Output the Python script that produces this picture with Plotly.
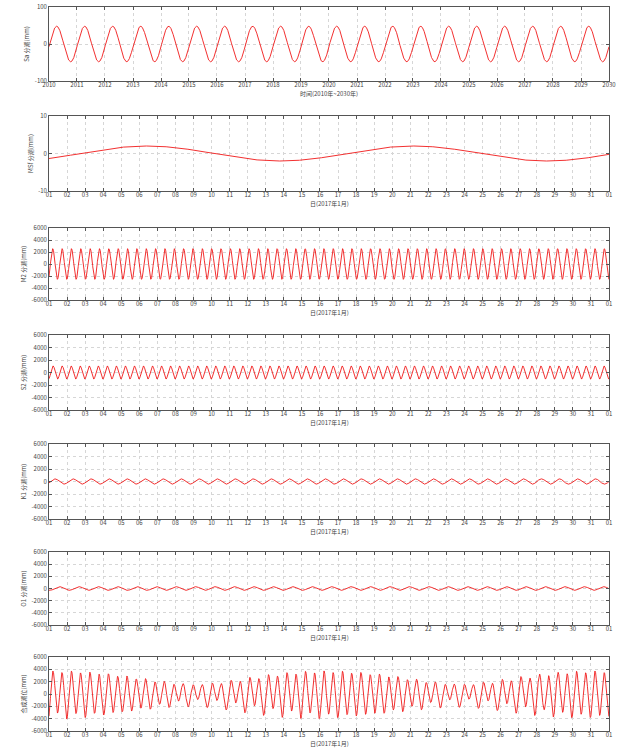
import numpy as np
import pandas as pd
import plotly.graph_objects as go

# ---- data (harmonic constituents) ----
constituents = ["Sa", "MSf", "M2", "S2", "K1", "O1"]
periods_h = [8766.15, 354.37, 12.4206, 12.0, 23.9345, 25.8193]   # hours
amplitudes = [48, 2.0, 2550, 1050, 420, 300]
first_peak_h = [2400, 130, 5.0, 5.4, 8.0, 14.0]                   # time of first crest (h)

y_titles = ["Sa 分潮(mm)", "MSf 分潮(mm)", "M2 分潮(mm)", "S2 分潮(mm)",
            "K1 分潮(mm)", "O1 分潮(mm)", "合成潮位(mm)"]
x_titles = ["时间(2010年~2030年)"] + ["日(2017年1月)"] * 6
y_ranges = [[-100, 100], [-10, 10]] + [[-6000, 6000]] * 5
y_tickvals = [[-100, 0, 100], [-10, 0, 10]] + [[-6000, -4000, -2000, 0, 2000, 4000, 6000]] * 5

long_start, long_end = "2010-01-01", "2030-01-01"
month_start, month_end = "2017-01-01", "2017-02-01"

t_long = pd.date_range(long_start, long_end, freq="D")
t_month = pd.date_range(month_start, month_end, freq="10min")
h_long = (t_long - t_long[0]).total_seconds().values / 3600.0
h_month = (t_month - t_month[0]).total_seconds().values / 3600.0


def wave(i, h):
    return amplitudes[i] * np.cos(2 * np.pi * (h - first_peak_h[i]) / periods_h[i])


series = [wave(0, h_long), wave(1, h_month)] + [wave(i, h_month) for i in range(2, 6)]
series.append(sum(wave(i, h_month) for i in range(1, 6)))
xs = [t_long] + [t_month] * 6

# ---- layout (pixel positions of the panels) ----
W, H = 622, 749
L, R = 49, 609
panels = [(7, 81), (116, 191), (228, 300), (335, 410), (444, 519), (552, 625), (657, 731)]

FONT = "Noto Sans CJK SC, Noto Sans, DejaVu Sans"
TXT = "#444"
fig = go.Figure()
annotations = []
for k in range(7):
    sfx = "" if k == 0 else str(k + 1)
    fig.add_trace(go.Scatter(x=xs[k], y=series[k], mode="lines",
                             line=dict(color="#f01818", width=0.9),
                             xaxis="x" + sfx, yaxis="y" + sfx, showlegend=False,
                             hoverinfo="skip"))
    T, B = panels[k]
    common = dict(showline=True, mirror="ticks", linecolor="#555", linewidth=0.8,
                  ticks="inside", ticklen=3, tickcolor="#555",
                  showgrid=True, gridcolor="#d6d6d6", griddash="dot", gridwidth=0.6,
                  zeroline=False, ticklabeloverflow="allow",
                  tickfont=dict(size=6, color=TXT, family=FONT))
    if k == 0:
        xa = dict(type="date", range=[long_start, long_end], dtick="M12",
                  tick0=long_start, tickformat="%Y", **common)
    else:
        xa = dict(type="date", range=[month_start, month_end], dtick=86400000,
                  tick0=month_start, tickformat="%d", **common)
    xa.update(domain=[0, 1], anchor="y" + sfx, ticklabelstandoff=-2)
    ya = dict(range=y_ranges[k], tickmode="array", tickvals=y_tickvals[k],
              ticktext=[str(v) for v in y_tickvals[k]],
              domain=[1 - B / H, 1 - T / H], anchor="x" + sfx,
              title=dict(text=y_titles[k], standoff=4,
                         font=dict(size=6, color=TXT, family=FONT)),
              **common)
    fig.update_layout(**{"xaxis" + sfx: xa, "yaxis" + sfx: ya})
    annotations.append(dict(text=x_titles[k], xref="paper", yref="paper",
                            x=0.5, y=1 - (B + 12.5) / H, showarrow=False,
                            font=dict(size=6, color=TXT, family=FONT),
                            xanchor="center", yanchor="middle"))

fig.update_layout(width=W, height=H, margin=dict(l=L, r=W - R, t=0, b=0, autoexpand=False),
                  paper_bgcolor="white", plot_bgcolor="white",
                  annotations=annotations, font=dict(family=FONT))
fig.write_html("out.html", config={"displayModeBar": False},
               post_script="document.body.style.margin='0';document.body.style.overflow='hidden';")
